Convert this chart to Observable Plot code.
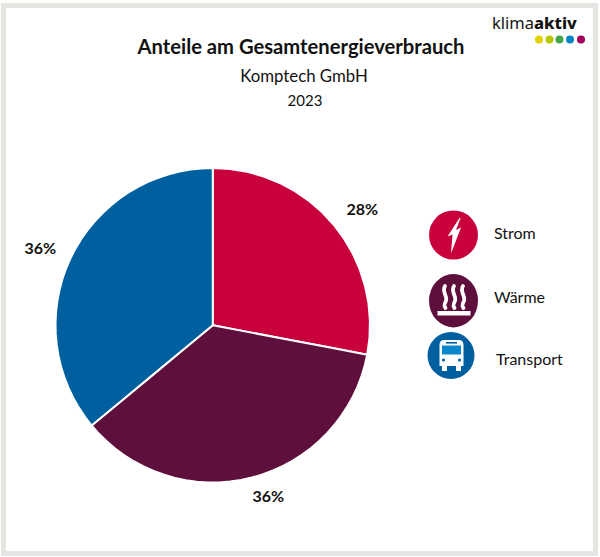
<!DOCTYPE html>
<html lang="de">
<head>
<meta charset="utf-8">
<script src="https://cdn.jsdelivr.net/npm/d3@7"></script>
<script src="https://cdn.jsdelivr.net/npm/@observablehq/plot@0.6"></script>
<style>
html,body{margin:0;padding:0;background:#fff;}
#page{position:relative;width:600px;height:557px;overflow:hidden;font-family:Lato,"Open Sans",sans-serif;color:#111;}
#frame{position:absolute;left:1px;top:3px;width:587px;height:543px;border:5px solid #e5e5e1;}
#chart{position:absolute;left:0;top:0;}
.t{position:absolute;white-space:nowrap;text-align:center;left:0;width:600px;}
.leg{position:absolute;white-space:nowrap;font-size:16px;}
.ic{position:absolute;left:0;top:0;}
#logo{position:absolute;left:492px;top:11px;font-family:"Noto Sans",sans-serif;font-size:16.5px;line-height:24px;letter-spacing:0;}
#logo b{font-weight:800;}
</style>
</head>
<body>
<div id="page">
  <div id="frame"></div>
  <div id="chart"></div>
  <div class="t" id="title" style="left:1px;top:34px;font-size:20.2px;font-weight:700;"></div>
  <div class="t" id="sub" style="left:4px;top:65px;font-size:16.8px;"></div>
  <div class="t" id="year" style="left:5px;top:91px;font-size:15px;"></div>
  <div id="logo">klima<b>aktiv</b></div>
  <svg class="ic" width="600" height="557" id="icons">
    <circle cx="539" cy="39.5" r="4" fill="#e3d400"/>
    <circle cx="549.5" cy="39.5" r="4" fill="#b7c800"/>
    <circle cx="559.5" cy="39.5" r="4" fill="#43a546"/>
    <circle cx="570" cy="39.5" r="4" fill="#0086c5"/>
    <circle cx="581" cy="39.5" r="4" fill="#a5005c"/>

    <circle cx="453.5" cy="235" r="24.5" fill="#c8003c"/>
    <path d="M459.5 218 L447.5 236.5 L452.5 234.5 L451 253.5 L461 227.5 L456 230 L460.5 218 Z" fill="#fff"/>

    <ellipse cx="453.5" cy="300.7" rx="24.5" ry="26.7" fill="#5f0f3c"/>
    <g fill="none" stroke="#fff" stroke-width="3.8" stroke-linecap="round">
      <path d="M445 286 C441 292 449 297 445.5 302 C444 305 444 306 445.5 308"/>
      <path d="M454 286 C450 292 458 297 454.5 302 C453 305 453 306 454.5 308"/>
      <path d="M463 286 C459 292 467 297 463.5 302 C462 305 462 306 463.5 308"/>
    </g>
    <rect x="437.5" y="311" width="33" height="4.5" fill="#fff"/>

    <circle cx="451" cy="355.5" r="23.5" fill="#00609f"/>
    <path d="M444 340 H459 Q463.5 340 463.5 345 V366 H461 V371 H456 V366 H447 V371 H442 V366 H439.5 V345 Q439.5 340 444 340 Z" fill="#fff"/>
    <rect x="442" y="345.5" width="19" height="9" fill="#0a86cc"/>
    <rect x="446" y="342" width="11" height="1.6" fill="#00609f"/>
    <circle cx="443.5" cy="360" r="1.6" fill="#00609f"/>
    <circle cx="459.5" cy="360" r="1.6" fill="#00609f"/>
  </svg>
  <div class="leg" id="l0" style="left:494px;top:223px;"></div>
  <div class="leg" id="l1" style="left:494px;top:287px;"></div>
  <div class="leg" id="l2" style="left:496px;top:349px;"></div>
</div>
<script>
const categories = ["Strom", "Wärme", "Transport"];
const shares = [28, 36, 36];
const colors = ["#c8003c", "#5f0f3c", "#00609f"];
const shareLabels = ["28%", "36%", "36%"];
const titleText = "Anteile am Gesamtenergieverbrauch";
const subtitleText = "Komptech GmbH";
const yearText = "2023";

d3.select("#title").text(titleText);
d3.select("#sub").text(subtitleText);
d3.select("#year").text(yearText);
categories.forEach((c, i) => d3.select("#l" + i).text(c));

// A pie as a polar map: clockwise angle from the top becomes a longitude,
// the equator is the pie's rim and the pole its centre.
const lon = a => 180 - a;
const pieces = d3.pie().sort(null).value(d => d)(shares);
const deg = r => r * 180 / Math.PI;
const slices = pieces.map((p, i) => {
  const a0 = deg(p.startAngle), a1 = deg(p.endAngle);
  return {
    type: "Feature",
    properties: {category: categories[i], color: colors[i]},
    geometry: {
      type: "Polygon",
      coordinates: [[[0, 90], [lon(a0), 0], [lon((a0 + a1) / 2), 0], [lon(a1), 0], [0, 90]]]
    }
  };
});
const rim = {type: "MultiPoint", coordinates: [[180, 0], [90, 0], [0, 0], [-90, 0]]};
// label placement around the rim: clockwise angle and distance beyond the rim
const labelShift = [2, -3.6, -1.2];
const labelLat = [-18, -13, -18];
const labels = pieces.map((p, i) => ({
  text: shareLabels[i],
  lon: lon(deg((p.startAngle + p.endAngle) / 2) + labelShift[i]),
  lat: labelLat[i]
}));

const chart = Plot.plot({
  width: 600,
  height: 557,
  marginLeft: 55,
  marginRight: 230.5,
  marginTop: 167.5,
  marginBottom: 75,
  projection: {type: "azimuthal-equidistant", rotate: [0, -90], domain: rim, clip: false},
  marks: [
    Plot.geo(slices, {fill: d => d.properties.color, stroke: "#fff", strokeWidth: 2}),
    Plot.text(labels, {x: "lon", y: "lat", text: "text", fontSize: 16, fontWeight: 700, fill: "#111", fontFamily: "Lato"})
  ]
});
chart.style.background = "transparent";
document.getElementById("chart").appendChild(chart);
</script>
</body>
</html>
